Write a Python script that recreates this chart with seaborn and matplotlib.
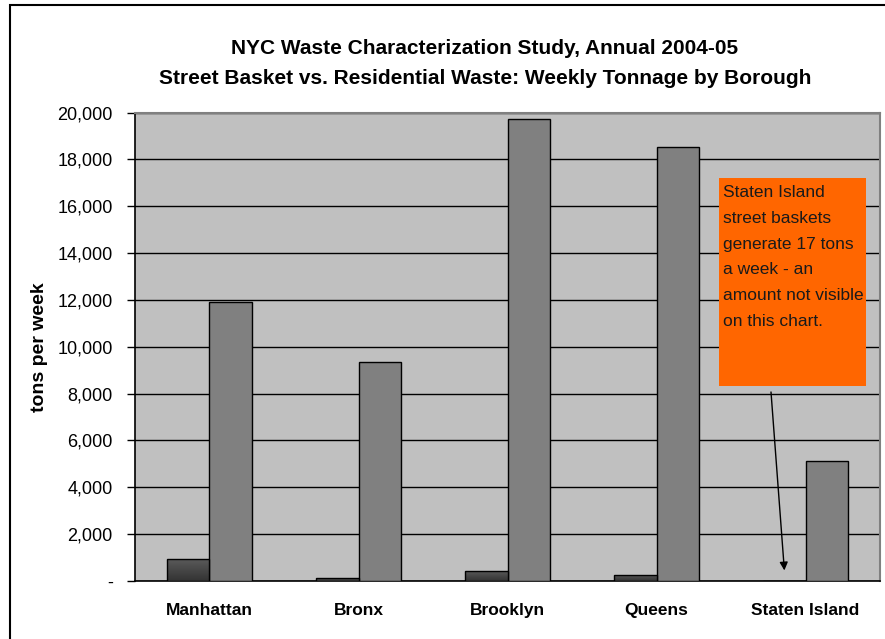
import numpy as np
import matplotlib
matplotlib.use("Agg")
import matplotlib.pyplot as plt
import matplotlib.patches as mpatches
from matplotlib.ticker import FuncFormatter
import pandas as pd
import seaborn as sns

# data (tons per week)
boroughs = ["Manhattan", "Bronx", "Brooklyn", "Queens", "Staten Island"]
street_baskets = [940, 115, 430, 260, 17]
residential = [11900, 9350, 19720, 18520, 5130]
series_names = ["Street Baskets", "Residential"]

df = pd.DataFrame({
    "borough": boroughs * 2,
    "tons": street_baskets + residential,
    "series": [series_names[0]] * 5 + [series_names[1]] * 5,
})

sns.set_style("white", {"text.color": "black", "axes.labelcolor": "black",
                        "xtick.color": "black", "ytick.color": "black"})
plt.rcParams["font.family"] = ["Liberation Sans", "DejaVu Sans"]

fig = plt.figure(figsize=(8.85, 6.39), dpi=100)
ax = fig.add_axes([0.1525, 0.0908, 0.842, 0.733])
ax.set_facecolor("#c0c0c0")

sns.barplot(data=df, x="borough", y="tons", hue="series", order=boroughs,
            hue_order=series_names, palette=["#404040", "#808080"],
            width=0.57, edgecolor="black", linewidth=1.0, legend=False,
            zorder=3, ax=ax)

# dark gradient on the street basket bars (like the excel fill)
grad = np.linspace(0, 1, 100).reshape(-1, 1)
cmap = matplotlib.colors.LinearSegmentedColormap.from_list("g", ["#333333", "#5c5c5c"])
for bar in ax.containers[0]:
    x0, y0 = bar.get_x(), bar.get_y()
    w, h = bar.get_width(), bar.get_height()
    im = ax.imshow(grad, extent=[x0, x0 + w, y0, y0 + h], aspect="auto",
                   cmap=cmap, origin="lower", zorder=3.5)
    im.set_clip_path(bar)
    bar.set_facecolor("none")
    bar.set_zorder(4)

ax.set_xlim(-0.5, 4.5)
ax.set_ylim(0, 20000)
ax.set_yticks(np.arange(0, 20001, 2000))
ax.yaxis.set_major_formatter(FuncFormatter(lambda v, p: "-" if v == 0 else f"{v:,.0f}"))
ax.grid(axis="y", color="black", linewidth=1.0, zorder=1)
ax.set_axisbelow(True)

ax.set_xticks(range(5))
ax.set_xticklabels(boroughs, fontsize=12.5, fontweight="bold")
ax.set_xticks(np.arange(-0.5, 5, 1), minor=True)
ax.tick_params(axis="x", which="major", length=0, pad=16)
ax.tick_params(axis="x", which="minor", direction="out", length=6, width=1, color="black")
ax.tick_params(axis="y", direction="out", length=6, width=1, color="black",
               labelsize=13, left=True, pad=10)
ax.set_xlabel("")
ax.set_ylabel("tons per week", fontsize=14, fontweight="bold", labelpad=7)

for s in ["left", "bottom"]:
    ax.spines[s].set_color("black")
    ax.spines[s].set_linewidth(1.2)
for s in ["top", "right"]:
    ax.spines[s].set_color("#808080")
    ax.spines[s].set_linewidth(1.5)

fig.text(0.548, 0.924, "NYC Waste Characterization Study, Annual 2004-05",
         ha="center", va="center", fontsize=15, fontweight="bold")
fig.text(0.548, 0.877, "Street Basket vs. Residential Waste: Weekly Tonnage by Borough",
         ha="center", va="center", fontsize=15, fontweight="bold")

# callout box
box = mpatches.Rectangle((719 / 885, 1 - 386 / 639), 147 / 885, 208 / 639,
                         transform=fig.transFigure, facecolor="#ff6600",
                         edgecolor="none", zorder=5)
fig.patches.append(box)
fig.text(723 / 885, 1 - 185 / 639,
         "Staten Island\nstreet baskets\ngenerate 17 tons\na week - an\namount not visible\non this chart.",
         ha="left", va="top", fontsize=12.5, linespacing=1.9, color="#1a1a1a",
         zorder=6)

bar_si = ax.containers[0][4]
ax.annotate("", xy=(bar_si.get_x() + bar_si.get_width() / 2, 450),
            xytext=(771 / 885, 1 - 392 / 639), textcoords="figure fraction",
            arrowprops=dict(arrowstyle="-|>", color="black", lw=1.0,
                            mutation_scale=12, shrinkA=0, shrinkB=0), zorder=6)

# outer frame of the chart
frame = mpatches.Rectangle((10 / 885, -0.05), 1.0, 1 - 5 / 639 + 0.05,
                           transform=fig.transFigure, facecolor="none",
                           edgecolor="black", linewidth=1.5, zorder=0)
fig.patches.append(frame)

fig.savefig("out.png", dpi=100)
